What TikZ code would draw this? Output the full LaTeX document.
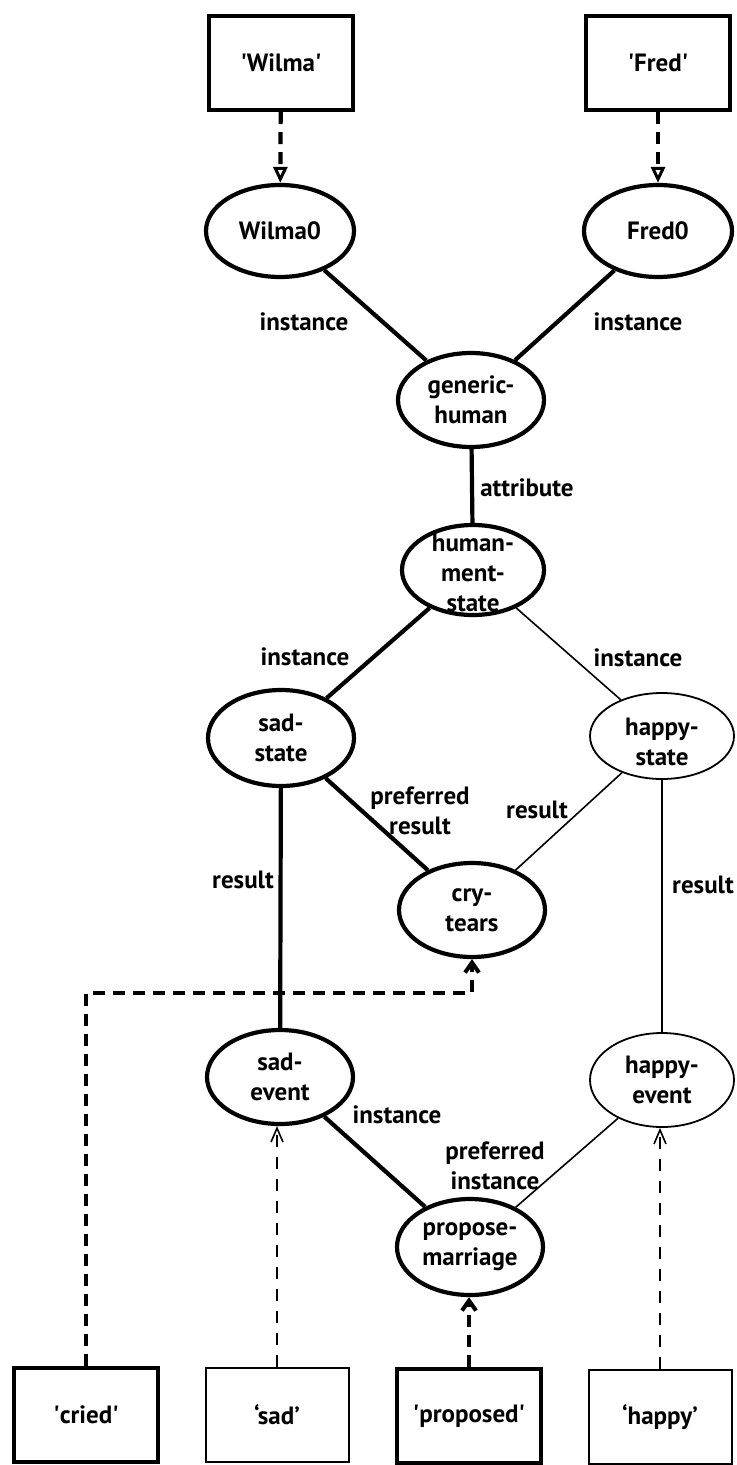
\documentclass[tikz,border=0pt]{standalone}
\usepackage{fontspec}
\setmainfont{PT Sans}
\usetikzlibrary{shapes.geometric,arrows.meta}
\begin{document}
\begin{tikzpicture}[x=0.5pt,y=-0.5pt,
  txt/.style={font=\fontsize{12.5}{14.8}\selectfont\bfseries,inner sep=0pt,align=center},
  ellthick/.style={ellipse,draw,line width=2.1pt,inner sep=0pt,minimum width=73pt,minimum height=47pt},
  ellthin/.style={ellipse,draw,line width=0.9pt,inner sep=0pt,minimum width=72pt,minimum height=46pt},
  boxthick/.style={rectangle,draw,line width=2.1pt,inner sep=0pt,minimum width=72pt,minimum height=47pt,font=\fontsize{12.5}{14.8}\selectfont\bfseries},
  boxthin/.style={rectangle,draw,line width=1pt,inner sep=0pt,minimum width=71.5pt,minimum height=47pt,font=\fontsize{12.5}{14.8}\selectfont\bfseries},
  thickline/.style={line width=2.1pt},
  thinline/.style={line width=0.8pt},
  thickdash/.style={line width=2.1pt,dash pattern=on 6pt off 4pt},
  thindash/.style={line width=0.8pt,dash pattern=on 6pt off 5pt},
  toptip/.style={-{Triangle[open,length=8pt,width=7pt,line width=1.5pt]}},
  bigtip/.style={-{Straight Barb[length=5pt,width=7pt,line width=2pt]}},
  smalltip/.style={-{Straight Barb[length=7pt,width=6pt,line width=0.8pt]}}
]
\useasboundingbox (0,0) rectangle (736,1465);

% top boxes
\node[boxthick] (wbox) at (281,63) {\textquotesingle Wilma\textquotesingle};
\node[boxthick] (fbox) at (658,63) {\textquotesingle Fred\textquotesingle};

% ellipses
\node[ellthick,minimum width=74pt,minimum height=46pt] (w0) at (280,231) {};
\node[txt] (w0t) at (w0) {Wilma0};
\node[ellthick,minimum width=74pt,minimum height=46pt] (f0) at (658,231) {};
\node[txt] (f0t) at (f0) {Fred0};
\node[ellthick] (gh) at (471,400) {};
\node[txt] (ght) at (gh) {generic-\\human};
\node[ellthick,minimum width=71pt,minimum height=45pt] (hms) at (473,570) {};
\node[txt] (hmst) at (473,573) {human-\\ment-\\state};
\node[ellthick,minimum height=48pt] (sads) at (281,738) {};
\node[txt] (sadst) at (sads) {sad-\\state};
\node[ellthin,minimum height=43pt] (haps) at (662,736) {};
\node[txt] (hapst) at (662,742) {happy-\\state};
\node[ellthick] (cry) at (472,910) {};
\node[txt] (cryt) at (cry) {cry-\\tears};
\node[ellthick] (sade) at (280,1077) {};
\node[txt] (sadet) at (sade) {sad-\\event};
\node[ellthin,minimum height=47pt] (hape) at (662,1080) {};
\node[txt] (hapet) at (hape) {happy-\\event};
\node[ellthick,minimum height=48pt] (prop) at (470,1247) {};
\node[txt] (propt) at (prop) {propose-\\marriage};

% bottom boxes
\node[boxthick] (cbox) at (86,1415) {\textquotesingle cried\textquotesingle};
\node[boxthin] (sbox) at (277,1415) {‘sad’};
\node[boxthick] (pbox) at (469,1416) {\textquotesingle proposed\textquotesingle};
\node[boxthin] (hbox) at (660,1417) {‘happy’};

% solid links
\draw[thickline] (w0) -- (gh);
\draw[thickline] (f0) -- (gh);
\draw[thickline] (gh) -- (hms);
\draw[thickline] (hms) -- (sads);
\draw[thinline] (hms) -- (haps);
\draw[thickline] (sads) -- (cry);
\draw[thinline] (haps) -- (cry);
\draw[thickline] (sads) -- (sade);
\draw[thinline] (haps) -- (hape);
\draw[thickline] (sade) -- (prop);
\draw[thinline] (hape) -- (prop);

% link labels
\node[txt] (l1) at (304,322) {instance};
\node[txt] (l2) at (638,322) {instance};
\node[txt] (l3) at (527,488) {attribute};
\node[txt] (l4) at (305,657) {instance};
\node[txt] (l5) at (638,658) {instance};
\node[txt] (l6) at (420,811) {preferred\\result};
\node[txt] (l7) at (537,810) {result};
\node[txt] (l8) at (243,880) {result};
\node[txt] (l9) at (703,885) {result};
\node[txt] (l10) at (397,1115) {instance};
\node[txt] (l11) at (495,1166) {preferred\\instance};

% dashed arrows
\draw[thickdash,toptip] (wbox) -- (w0);
\draw[thickdash,toptip] (fbox) -- (f0);
\coordinate (c1) at (86,993);
\coordinate (c2) at (472,993);
\draw[thickdash,bigtip] (cbox.north) -- (c1) -- (c2) -- (cry.south);
\draw[thindash,smalltip] (sbox.north) -- (sbox.north |- sade.south);
\draw[thickdash,bigtip] (pbox.north) -- (pbox.north |- prop.south);
\draw[thindash,smalltip] (hbox.north) -- (hbox.north |- hape.south);
\end{tikzpicture}
\end{document}
